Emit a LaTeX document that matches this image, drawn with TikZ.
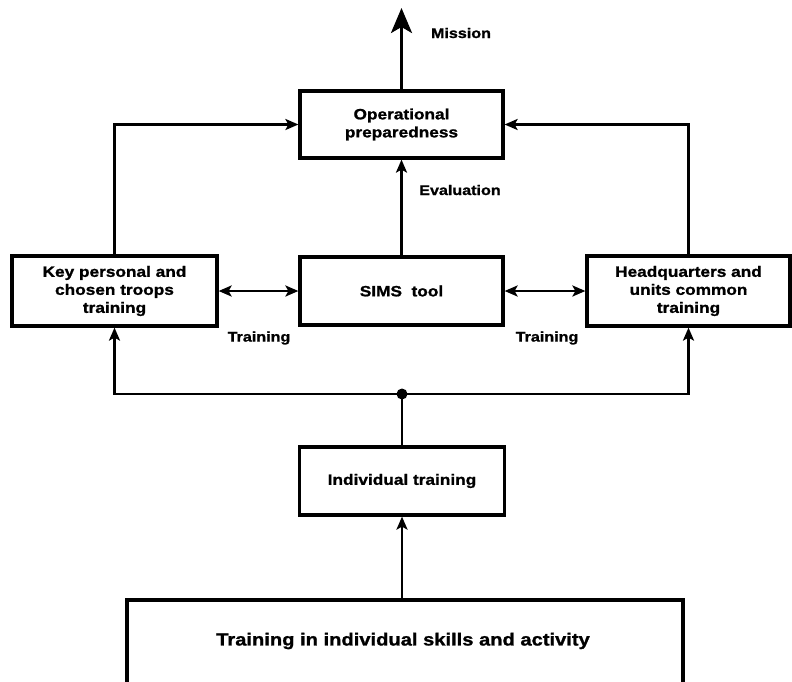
\documentclass[tikz,border=0pt]{standalone}
\usepackage{fontspec}
\setmainfont{Liberation Sans}[FakeStretch=1.15,FakeBold=1.2]
\usetikzlibrary{arrows.meta}
\begin{document}
\begin{tikzpicture}[x=1pt,y=-1pt,
  box/.style={draw=black, line width=3.2pt, fill=white, align=center, inner sep=0pt,
    font=\fontsize{15}{18}\selectfont\bfseries},
  lbl/.style={font=\fontsize{14}{16}\selectfont\bfseries, inner sep=0pt},
  tip/.style={Stealth[length=13pt,width=11pt,inset=3pt]},
  conn/.style={line width=2.8pt, -{Stealth[length=13pt,width=11pt,inset=3pt]}},
  dconn/.style={line width=2.8pt, {Stealth[length=13pt,width=11pt,inset=3pt]}-{Stealth[length=13pt,width=11pt,inset=3pt]}},
  plain/.style={line width=2.8pt}
]
\clip (0,0) rectangle (792,681);
\fill[white] (0,0) rectangle (792,681);

\node[box, minimum width=203pt, minimum height=67pt] (op) at (401.5,124.5) {Operational\\preparedness};
\node[box, minimum width=203pt, minimum height=68pt] (sims) at (401.5,291) {SIMS\ \ tool};
\node[box, minimum width=205pt, minimum height=70pt] (key) at (114.5,291) {Key personal and\\chosen troops\\training};
\node[box, minimum width=203pt, minimum height=70pt] (hq) at (688.5,291) {Headquarters and\\units common\\training};
\node[box, minimum width=205pt, minimum height=68pt] (ind) at (402,481) {Individual training};
\node[box, minimum width=556pt, minimum height=120pt] (base) at (405,660) {};
\node[font=\fontsize{17.5}{20}\selectfont\bfseries, inner sep=0pt] (basetxt) at (403,641) {Training in individual skills and activity};

\coordinate (m) at (401.5,8);
\coordinate (j) at (402,394);

\node[lbl] (mission) at (461,33) {Mission};
\node[lbl] (eval) at (460,190) {Evaluation};
\node[lbl] (tr1) at (259,338) {Training};
\node[lbl] (tr2) at (547,338) {Training};

\draw[line width=3pt, -{Stealth[length=25pt,width=21pt,inset=6pt]}] (op.north) -- (m);
\draw[conn] (sims.north) -- (op.south);
\draw[conn] (key.north) |- (op.west);
\draw[conn] (hq.north) |- (op.east);
\draw[dconn] (key.east) -- (sims.west);
\draw[dconn] (sims.east) -- (hq.west);
\draw[plain] (ind.north) -- (j);
\draw[conn] (j) -| (key.south);
\draw[conn] (j) -| (hq.south);
\fill (j) circle (5.5pt);
\draw[conn] (base.north -| ind.south) -- (ind.south);
\end{tikzpicture}
\end{document}
